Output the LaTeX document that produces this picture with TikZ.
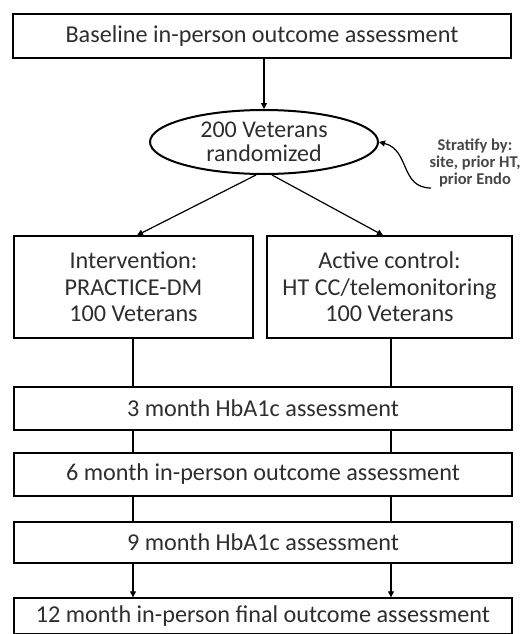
\documentclass[tikz,border=0pt]{standalone}
\usepackage{fontspec}
\setmainfont{Carlito}
\usetikzlibrary{arrows.meta,shapes.geometric}
\begin{document}
\begin{tikzpicture}[x=1pt,y=-1pt,
  box/.style={draw=black,line width=1.4pt,inner sep=0pt,font=\fontsize{24.2}{26.5}\selectfont,text=black!82,align=center},
  conn/.style={line width=1.2pt},
  arr/.style={line width=1.2pt,-{Triangle[length=6pt,width=6pt]}}]
\useasboundingbox (0,0) rectangle (525,634);
\node[box,minimum width=498pt,minimum height=44pt] (base) at (262,36) {Baseline in-person outcome assessment};
\node[draw=black,line width=2pt,ellipse,minimum width=228pt,minimum height=64pt,inner sep=0pt,font=\fontsize{24}{24}\selectfont,text=black!82,align=center] (rand) at (264,142) {200 Veterans\\randomized};
\node[font=\bfseries\fontsize{16.5}{16.8}\selectfont,text=black!72,align=center] (strat) at (475,163) {Stratify by:\\site, prior HT,\\prior Endo};
\node[box,minimum width=239pt,minimum height=102pt] (int) at (133.5,287) {Intervention:\\PRACTICE-DM\\100 Veterans};
\node[box,minimum width=245pt,minimum height=102pt] (ctl) at (389.5,287) {Active control:\\HT CC/telemonitoring\\100 Veterans};
\node[box,minimum width=498pt,minimum height=43pt] (m3) at (263,408.5) {3 month HbA1c assessment};
\node[box,minimum width=498pt,minimum height=43pt] (m6) at (263,474.5) {6 month in-person outcome assessment};
\node[box,minimum width=498pt,minimum height=41pt] (m9) at (263,542.5) {9 month HbA1c assessment};
\node[box,minimum width=498pt,minimum height=36pt] (m12) at (263,616) {12 month in-person final outcome assessment};
\coordinate (sa) at (431,188);
\coordinate (L) at (133,0);
\coordinate (R) at (391,0);
\draw[arr] (base.south -| rand.north) -- (rand.north);
\draw[arr] ([xshift=-8pt]rand.south) -- ([xshift=3.5pt]int.north);
\draw[arr] ([xshift=8pt]rand.south) -- ([xshift=-6.5pt]ctl.north);
\draw[arr] (sa) .. controls (400,188) and (410,150) .. (rand.east);
\draw[conn] (L |- int.south) -- (L |- m3.north);
\draw[conn] (R |- ctl.south) -- (R |- m3.north);
\draw[conn] (L |- m3.south) -- (L |- m6.north);
\draw[conn] (R |- m3.south) -- (R |- m6.north);
\draw[conn] (L |- m6.south) -- (L |- m9.north);
\draw[conn] (R |- m6.south) -- (R |- m9.north);
\draw[arr] (L |- m9.south) -- (L |- m12.north);
\draw[arr] (R |- m9.south) -- (R |- m12.north);
\end{tikzpicture}
\end{document}
